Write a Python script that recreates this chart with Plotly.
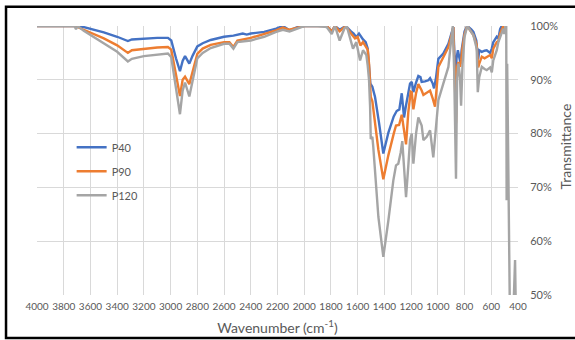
import plotly.graph_objects as go

# FTIR transmittance spectra (wavenumber in cm^-1, transmittance in %)
wn_p40 = [4000, 3900, 3800, 3720, 3650, 3600, 3500, 3400, 3320, 3290, 3200, 3100, 3020, 2995,
          2960, 2930, 2910, 2892, 2860, 2835, 2800, 2760, 2700, 2600, 2530, 2500, 2460, 2430,
          2400, 2300, 2210, 2160, 2110, 2050, 2000, 1900, 1832, 1794, 1770, 1735, 1690, 1650,
          1630, 1610, 1590, 1560, 1540, 1525, 1515, 1505, 1490, 1470, 1440, 1408, 1370, 1330,
          1308, 1288, 1270, 1253, 1240, 1208, 1195, 1183, 1163, 1146, 1130, 1121, 1096, 1071,
          1058, 1038, 1028, 1013, 996, 959, 921, 896, 884, 876, 868, 860, 850, 838, 830, 822,
          800, 780, 750, 734, 712, 704, 698, 690, 671, 650, 634, 609, 596, 585, 559, 547, 534,
          522, 514]
t_p40 = [100, 100, 100, 100, 99.8, 99.5, 98.8, 98.0, 97.2, 97.5, 97.7, 97.8, 97.8, 97.3,
         94.0, 91.6, 93.5, 94.4, 93.0, 94.5, 96.2, 96.8, 97.4, 98.0, 98.2, 98.4, 98.6, 98.4,
         98.6, 98.9, 99.5, 100, 99.2, 99.8, 100, 100, 100, 99.0, 100, 99.3, 100, 99.0,
         98.6, 97.9, 98.6, 97.5, 97.0, 95.8, 93.0, 89.3, 88.7, 86.8, 82.0, 76.3, 80.2, 83.2,
         84.2, 84.5, 87.5, 83.0, 85.0, 89.3, 89.6, 87.7, 89.5, 90.7, 90.5, 89.6, 89.7, 89.9,
         90.3, 89.3, 88.4, 90.5, 93.9, 94.9, 96.7, 98.9, 99.8, 95.0, 89.5, 94.0, 95.5, 94.0,
         93.0, 95.5, 99.0, 100, 99.4, 98.9, 97.3, 95.0, 93.8, 95.5, 95.2, 95.4, 95.5, 95.0,
         95.8, 97.0, 98.0, 97.7, 99.4, 100, 99.5]

wn_p90 = [4000, 3800, 3716, 3650, 3600, 3500, 3400, 3320, 3290, 3200, 3100, 3020, 2995, 2960,
          2930, 2910, 2892, 2860, 2835, 2800, 2760, 2700, 2600, 2560, 2530, 2500, 2400, 2300,
          2210, 2160, 2110, 2050, 2000, 1900, 1832, 1794, 1770, 1735, 1690, 1650, 1620, 1600,
          1580, 1560, 1535, 1525, 1515, 1502, 1490, 1483, 1445, 1408, 1370, 1330, 1313, 1290,
          1270, 1253, 1238, 1221, 1203, 1195, 1183, 1163, 1146, 1121, 1108, 1083, 1058, 1038,
          1021, 1008, 996, 959, 921, 896, 884, 875, 864, 856, 846, 834, 826, 815, 800, 780,
          750, 734, 709, 698, 690, 684, 671, 650, 634, 609, 596, 585, 559, 547, 534, 522, 510,
          505]
t_p90 = [100, 100, 100, 99.3, 98.8, 97.7, 96.4, 95.0, 95.5, 95.8, 96.0, 96.1, 95.6, 91.0,
         87.0, 90.0, 90.6, 89.2, 91.5, 94.8, 95.8, 96.5, 97.0, 97.0, 96.1, 97.3, 97.8, 98.5,
         99.2, 99.7, 99.3, 99.7, 100, 100, 100, 99.0, 100, 99.0, 100, 98.6, 97.7, 98.0,
         96.4, 97.0, 96.1, 95.6, 93.0, 86.8, 86.0, 84.5, 77.0, 71.5, 76.0, 80.0, 81.5, 81.6,
         83.5, 80.6, 78.0, 84.0, 87.8, 87.7, 84.5, 87.5, 89.2, 88.0, 87.2, 87.6, 88.0, 86.5,
         85.0, 88.7, 92.4, 94.2, 96.1, 98.5, 99.8, 92.0, 81.9, 92.4, 93.3, 92.4, 93.5, 96.0,
         98.5, 100, 99.0, 98.3, 96.5, 92.3, 93.0, 93.5, 94.3, 94.0, 94.2, 94.6, 94.0, 95.8,
         97.0, 97.2, 98.6, 99.2, 100, 98.6]

wn_p120 = [4000, 3800, 3720, 3708, 3695, 3650, 3600, 3500, 3400, 3320, 3290, 3200, 3100, 3020,
           2995, 2960, 2930, 2910, 2892, 2860, 2835, 2800, 2760, 2700, 2600, 2560, 2530, 2500,
           2400, 2300, 2210, 2160, 2110, 2050, 2000, 1900, 1832, 1794, 1770, 1735, 1700, 1682,
           1650, 1635, 1610, 1582, 1560, 1535, 1525, 1515, 1507, 1502, 1490, 1483, 1445, 1408,
           1370, 1333, 1313, 1296, 1278, 1266, 1253, 1238, 1221, 1208, 1195, 1183, 1163, 1146,
           1121, 1108, 1083, 1058, 1034, 1013, 996, 959, 921, 903, 888, 878, 864, 856, 846, 834,
           826, 815, 800, 780, 750, 734, 709, 701, 690, 671, 650, 634, 609, 596, 585, 559, 547,
           534, 510, 503, 494, 488, 485, 481, 476, 470, 460, 437, 422, 415, 400]
t_p120 = [100, 100, 100, 99.4, 100, 99.1, 98.3, 96.7, 95.2, 93.4, 93.9, 94.4, 94.7, 94.9,
          94.2, 88.0, 83.6, 88.0, 89.5, 86.9, 90.0, 94.0, 95.0, 95.9, 96.7, 96.7, 95.8, 97.0,
          97.3, 98.0, 98.9, 99.3, 99.0, 99.5, 100, 100, 99.8, 98.5, 100, 97.3, 99.5, 100,
          97.3, 95.8, 97.0, 93.6, 95.5, 94.6, 92.7, 90.0, 85.0, 79.0, 79.4, 77.5, 64.5, 57.1,
          63.9, 71.3, 74.1, 74.4, 76.5, 78.6, 73.8, 68.2, 74.0, 78.8, 80.0, 74.4, 80.0, 83.0,
          81.5, 78.8, 79.4, 80.6, 75.6, 81.2, 86.2, 89.3, 92.4, 96.7, 100, 92.0, 71.6, 90.0,
          93.0, 90.5, 85.2, 93.0, 98.0, 100, 99.0, 98.3, 95.8, 87.7, 90.5, 92.4, 92.0, 91.8,
          92.3, 91.4, 93.6, 95.5, 97.0, 98.0, 99.5, 98.5, 100, 100, 67.6, 93.0, 85.0, 68.0,
          45.0, 45.0, 56.5, 45.0, 45.0]

series = [
    ("P40", wn_p40, t_p40, "#4472C4"),
    ("P90", wn_p90, t_p90, "#ED7D31"),
    ("P120", wn_p120, t_p120, "#A5A5A5"),
]

FONT = "Lato, 'Open Sans', sans-serif"
GREY_TXT = "#595959"
GRID = "#D9D9D9"

fig = go.Figure()
for name, wn, t, color in series:
    fig.add_trace(go.Scatter(
        x=wn, y=t, mode="lines", name=name, legendgroup=name,
        line=dict(color=color, width=2.4),
    ))

fig.update_layout(
    width=575, height=340,
    margin=dict(l=37, r=57, t=26, b=45, autoexpand=False),
    paper_bgcolor="white", plot_bgcolor="white",
    font=dict(family=FONT, color=GREY_TXT, size=11),
    showlegend=True,
    legend=dict(
        x=0.072, y=0.603, xanchor="left", yanchor="top",
        bgcolor="rgba(0,0,0,0)", font=dict(size=11, color=GREY_TXT),
        tracegroupgap=5,
    ),
    xaxis=dict(
        range=[4000, 400], dtick=200, tick0=400, automargin=False,
        showgrid=True, gridcolor=GRID, gridwidth=1,
        zeroline=False, showline=False,
        ticks="outside", ticklen=2, tickcolor="rgba(0,0,0,0)", tickangle=0,
        tickfont=dict(size=10, color=GREY_TXT),
        title=dict(text="Wavenumber (cm<sup>-1</sup>)", font=dict(size=14, color=GREY_TXT), standoff=12),
    ),
    yaxis=dict(
        range=[50, 100], dtick=10, ticksuffix="%", side="right", automargin=False,
        showgrid=True, gridcolor=GRID, gridwidth=1,
        zeroline=False, showline=False,
        ticks="outside", ticklen=9, tickcolor="rgba(0,0,0,0)",
        tickfont=dict(size=11, color=GREY_TXT),
    ),
    annotations=[dict(
        text="Transmittance", textangle=-90, showarrow=False,
        xref="paper", yref="paper", x=1.099, y=0.551,
        xanchor="center", yanchor="middle",
        font=dict(size=14, color=GREY_TXT),
    )],
)

# outer chart frame
fig.add_shape(
    type="rect", xref="paper", yref="paper",
    x0=-0.0644, x1=1.14, y0=-0.160, y1=1.072,
    line=dict(color="black", width=2.5), fillcolor="rgba(0,0,0,0)", layer="above",
)

fig.write_html("out.html")
